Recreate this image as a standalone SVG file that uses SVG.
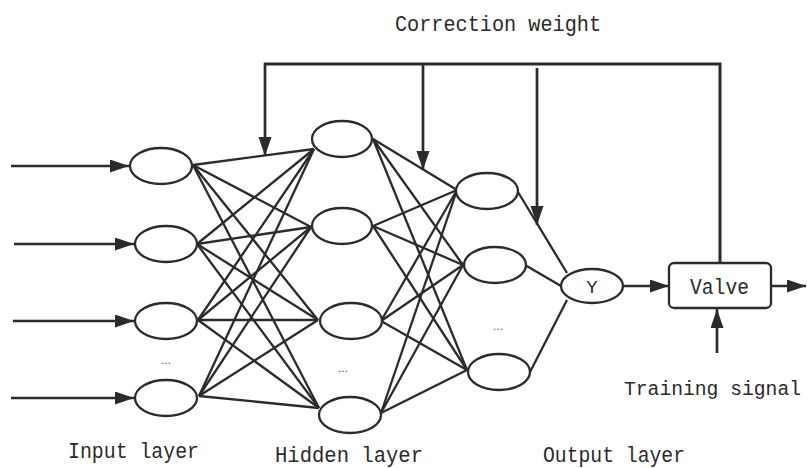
<svg xmlns="http://www.w3.org/2000/svg" width="807" height="468" viewBox="0 0 807 468">
<style>
.n{fill:#fff;stroke:#2b2b2b;stroke-width:2.3}
.c{stroke:#2b2b2b;stroke-width:2.3;fill:none}
.f{stroke:#2b2b2b;stroke-width:2.7;fill:none}
.t{font-family:"Liberation Mono","DejaVu Sans Mono",monospace;font-size:22px;fill:#2a2a2a}
.d{font-family:"Liberation Sans",sans-serif;font-size:12px;fill:#555}
</style>
<defs>
<marker id="ah" markerUnits="userSpaceOnUse" markerWidth="20" markerHeight="14" refX="19" refY="6.5" orient="auto">
<path d="M0,0 L19,6.5 L0,13 z" fill="#2b2b2b"/>
</marker>
</defs>
<rect width="807" height="468" fill="#fff"/>
<g id="connectors">
<line class="f" x1="11" y1="166" x2="129" y2="166" marker-end="url(#ah)"/>
<line class="f" x1="14" y1="244" x2="134" y2="244" marker-end="url(#ah)"/>
<line class="f" x1="13" y1="321" x2="134" y2="321" marker-end="url(#ah)"/>
<line class="f" x1="11" y1="398" x2="134" y2="398" marker-end="url(#ah)"/>
<g class="c">
<line x1="193" y1="165" x2="314" y2="149"/><line x1="193" y1="165" x2="311" y2="227"/><line x1="193" y1="165" x2="318" y2="320"/><line x1="193" y1="165" x2="319" y2="408"/>
<line x1="197" y1="244" x2="314" y2="149"/><line x1="197" y1="244" x2="311" y2="227"/><line x1="197" y1="244" x2="318" y2="320"/><line x1="197" y1="244" x2="319" y2="408"/>
<line x1="198" y1="320" x2="314" y2="149"/><line x1="198" y1="320" x2="311" y2="227"/><line x1="198" y1="320" x2="318" y2="320"/><line x1="198" y1="320" x2="319" y2="408"/>
<line x1="199" y1="396" x2="314" y2="149"/><line x1="199" y1="396" x2="311" y2="227"/><line x1="199" y1="396" x2="318" y2="320"/><line x1="199" y1="396" x2="319" y2="408"/>
</g>
<g class="c">
<line x1="373" y1="139" x2="457" y2="190"/><line x1="373" y1="139" x2="463" y2="265"/><line x1="373" y1="139" x2="467" y2="370"/>
<line x1="373" y1="226" x2="457" y2="190"/><line x1="373" y1="226" x2="463" y2="265"/><line x1="373" y1="226" x2="467" y2="370"/>
<line x1="381" y1="321" x2="457" y2="190"/><line x1="381" y1="321" x2="463" y2="265"/><line x1="381" y1="321" x2="467" y2="370"/>
<line x1="381" y1="413" x2="457" y2="190"/><line x1="381" y1="413" x2="463" y2="265"/><line x1="381" y1="413" x2="467" y2="370"/>
</g>
<g class="c">
<line x1="518" y1="192" x2="567" y2="273"/>
<line x1="525" y1="265" x2="561" y2="286"/>
<line x1="530" y1="372" x2="567" y2="300"/>
</g>
<line class="f" x1="623" y1="286" x2="669" y2="286" marker-end="url(#ah)"/>
<line class="f" x1="771" y1="286" x2="806" y2="286" marker-end="url(#ah)"/>
<line class="f" x1="717" y1="353" x2="717" y2="309" marker-end="url(#ah)"/>
<polyline class="f" points="264,64 720,64 720,262" style="stroke-width:3"/>
<line class="f" x1="265" y1="63" x2="265" y2="156" marker-end="url(#ah)"/>
<line class="f" x1="423" y1="63" x2="423" y2="170" marker-end="url(#ah)"/>
<line class="f" x1="537" y1="68" x2="537" y2="225" marker-end="url(#ah)"/>
</g>
<g id="in1"><ellipse class="n" cx="161" cy="166" rx="31" ry="18"/></g>
<g id="in2"><ellipse class="n" cx="166" cy="244" rx="31" ry="18"/></g>
<g id="in3"><ellipse class="n" cx="166" cy="321" rx="31" ry="18"/></g>
<g id="in4"><ellipse class="n" cx="166" cy="398" rx="31" ry="18"/></g>
<g id="h1"><ellipse class="n" cx="342" cy="139" rx="30" ry="18"/></g>
<g id="h2"><ellipse class="n" cx="342" cy="226" rx="30" ry="18"/></g>
<g id="h3"><ellipse class="n" cx="351" cy="321" rx="31" ry="18"/></g>
<g id="h4"><ellipse class="n" cx="350" cy="415" rx="31" ry="18"/></g>
<g id="o1"><ellipse class="n" cx="487" cy="191" rx="31" ry="18"/></g>
<g id="o2"><ellipse class="n" cx="495" cy="265" rx="31" ry="18"/></g>
<g id="o3"><ellipse class="n" cx="499" cy="372" rx="31" ry="18"/></g>
<g id="y"><ellipse class="n" cx="592" cy="286" rx="31" ry="17"/><text class="t" x="592" y="293" text-anchor="middle" style="font-size:19px">Y</text></g>
<g id="valve"><rect class="n" x="669" y="263" width="102" height="45" rx="5"/><text class="t" x="690" y="294" textLength="59" lengthAdjust="spacingAndGlyphs">Valve</text></g>
<g id="labels">
<text class="t" x="395" y="31" textLength="206" lengthAdjust="spacingAndGlyphs">Correction weight</text>
<text class="t" x="68" y="458" textLength="131" lengthAdjust="spacingAndGlyphs">Input layer</text>
<text class="t" x="275" y="462" textLength="148" lengthAdjust="spacingAndGlyphs">Hidden layer</text>
<text class="t" x="543" y="462" textLength="142" lengthAdjust="spacingAndGlyphs">Output layer</text>
<text class="t" x="624" y="395" style="font-size:19.5px" textLength="177" lengthAdjust="spacingAndGlyphs">Training signal</text>
<text class="d" x="166" y="364" text-anchor="middle">...</text>
<text class="d" x="343" y="372" text-anchor="middle">...</text>
<text class="d" x="498" y="330" text-anchor="middle">...</text>
</g>
</svg>
